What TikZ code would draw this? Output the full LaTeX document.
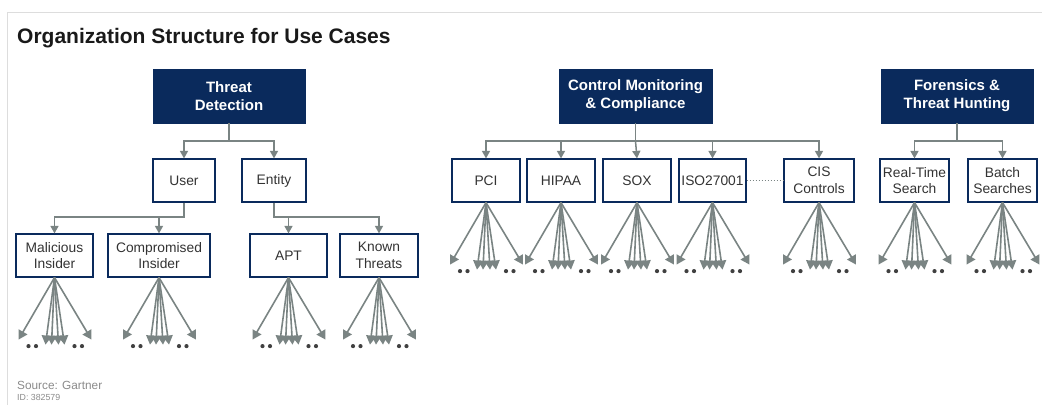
\documentclass[tikz,border=0pt]{standalone}
\usepackage{fontspec}
\setmainfont{Liberation Sans}
\usetikzlibrary{arrows.meta}

\definecolor{navy}{HTML}{0A2A5C}
\definecolor{linkgray}{HTML}{7A8483}
\definecolor{labelgray}{HTML}{333333}
\definecolor{framegray}{HTML}{DDDDDD}
\definecolor{notegray}{HTML}{8A8A8A}

\tikzset{
  headbox/.style={draw=navy, fill=navy, text=white, line width=0.8pt,
    font=\fontsize{15}{18}\selectfont\bfseries, align=center, inner sep=0pt,
    minimum height=54pt},
  leafbox/.style={draw=navy, fill=white, text=labelgray, line width=1.2pt,
    font=\fontsize{13.8}{16.6}\selectfont, align=center, inner sep=0pt,
    minimum height=43pt},
  conn/.style={draw=linkgray, line width=1.5pt,
    -{Triangle[length=7.5pt,width=8pt]}},
  fanline/.style={draw=linkgray, line width=1.6pt,
    -{Triangle[length=9pt,width=10pt]}},
  fandot/.style={fill=black!75, draw=none},
  linkdots/.style={draw=linkgray, line width=1.3pt, dash pattern=on 1.4pt off 1.6pt},
}

% a spray of six arrows under a box, with dots between the outer ones
\newcommand\drawspray[1]{%
  \foreach \k/\dx/\dy in {1/-36/62, 2/-9/67, 3/-3/67, 4/4/67, 5/10/67, 6/37/62}{
    \path (#1.south) ++(\dx,\dy) coordinate (#1-end\k);
    \draw[fanline] (#1.south) -- (#1-end\k);
  }
  \foreach \k/\dx in {1/-26, 2/-18.5, 3/20, 4/27.5}{
    \path (#1.south) ++(\dx,68.5) coordinate (#1-dot\k);
    \fill[fandot] (#1-dot\k) circle [radius=2.1pt];
  }
}

\begin{document}
\begin{tikzpicture}[x=1pt, y=-1pt]
\useasboundingbox (0,0) rectangle (1042,405);

% frame lines
\coordinate (frameTL) at (7,12);
\coordinate (frameTR) at (1042,12);
\coordinate (frameBL) at (7,405);
\draw[framegray, line width=1pt] (frameTR) -- (frameTL) -- (frameBL);

% title and source
\node[anchor=base west, inner sep=0pt, text=black!90,
      font=\fontsize{21}{25}\selectfont\bfseries] (title) at (17,43)
      {Organization Structure for Use Cases};
\node[anchor=base west, inner sep=0pt, text=notegray,
      font=\fontsize{11.8}{14}\selectfont] (source) at (17,389) {Source: Gartner};
\node[anchor=base west, inner sep=0pt, text=notegray,
      font=\fontsize{8.8}{10}\selectfont] (docid) at (17,400.5) {ID: 382579};

% top-level categories
\node[headbox, minimum width=152pt] (td)  at (229,96)   {Threat\\Detection};
\node[headbox, minimum width=153pt] (cmc) at (635.5,96) {Control Monitoring\\\& Compliance};
\node[headbox, minimum width=152pt] (fth) at (957,96)   {Forensics \&\\Threat Hunting};

% second level
\node[leafbox, minimum width=62pt] (user)   at (184,180.5)    {User};
\node[leafbox, minimum width=64pt] (entity) at (274,180.5)    {Entity};
\node[leafbox, minimum width=68pt] (pci)    at (486,180.5)    {PCI};
\node[leafbox, minimum width=68pt] (hipaa)  at (561,180.5)    {HIPAA};
\node[leafbox, minimum width=68pt] (sox)    at (637,180.5)    {SOX};
\node[leafbox, minimum width=67pt] (iso)    at (712.5,180.5)  {ISO27001};
\node[leafbox, minimum width=70pt] (cis)    at (819,180.5)    {CIS\\Controls};
\node[leafbox, minimum width=69pt] (rts)    at (914.5,180.5)  {Real-Time\\Search};
\node[leafbox, minimum width=69pt] (batch)  at (1002.5,180.5) {Batch\\Searches};

% third level
\node[leafbox, minimum width=77pt]  (mal)   at (54.5,255.5)  {Malicious\\Insider};
\node[leafbox, minimum width=102pt] (comp)  at (159,255.5)   {Compromised\\Insider};
\node[leafbox, minimum width=77pt]  (apt)   at (288.5,255.5) {APT};
\node[leafbox, minimum width=78pt]  (known) at (379,255.5)   {Known\\Threats};

% bus junctions
\coordinate (tdbus)  at (229,141);
\coordinate (cmcbus) at (635.5,141);
\coordinate (fthbus) at (957,141);
\coordinate (ubus)   at (184,217);
\coordinate (ebus)   at (274,217);

% tree connectors
\draw[conn] (td.south) -- (tdbus) -| (user.north);
\draw[conn] (tdbus) -| (entity.north);

\draw[conn] (user.south) -- (ubus) -| (mal.north);
\draw[conn] (ubus) -| (comp.north);
\draw[conn] (entity.south) -- (ebus) -| (apt.north);
\draw[conn] (ebus) -| (known.north);

\draw[conn] (cmc.south) -- (cmcbus) -| (pci.north);
\draw[conn] (cmcbus) -| (hipaa.north);
\draw[conn] (cmcbus) -- (sox.north);
\draw[conn] (cmcbus) -| (iso.north);
\draw[conn] (cmcbus) -| (cis.north);

\draw[conn] (fth.south) -- (fthbus) -| (rts.north);
\draw[conn] (fthbus) -| (batch.north);

% elided standards
\draw[linkdots] (iso.east) -- (cis.west);

% open-ended children
\drawspray{mal}
\drawspray{comp}
\drawspray{apt}
\drawspray{known}
\drawspray{pci}
\drawspray{hipaa}
\drawspray{sox}
\drawspray{iso}
\drawspray{cis}
\drawspray{rts}
\drawspray{batch}

\end{tikzpicture}
\end{document}
